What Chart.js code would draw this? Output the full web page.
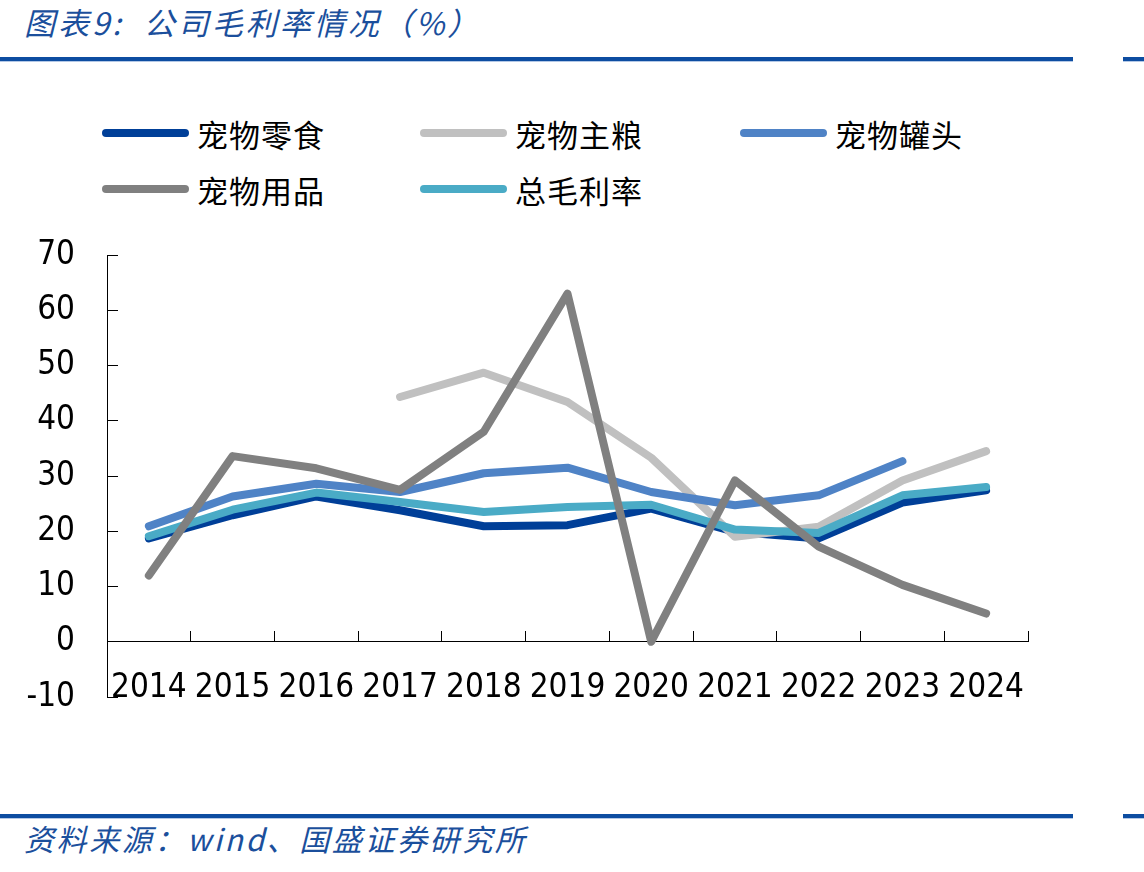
<!DOCTYPE html>
<html>
<head>
<meta charset="utf-8">
<script src="https://cdn.jsdelivr.net/npm/chart.js@4.4.1/dist/chart.umd.min.js"></script>
<style>
    body {
        margin: 0;
        width: 1144px;
        height: 872px;
        background: #fff;
        position: relative;
        overflow: hidden;
        font-family: "Noto Sans CJK SC", sans-serif;
    }
    .title, .source {
        position: absolute;
        left: 24px;
        font-style: italic;
        color: #1b4f9c;
        white-space: pre;
        line-height: 44px;
    }
    .title { top: 0; font-size: 31px; letter-spacing: 3px; }
    .source { top: 816px; font-size: 30px; letter-spacing: 2.6px; }
    .rule {
        position: absolute;
        height: 4px;
        background: #0d4da1;
        border-bottom: 1px solid #b3c8e6;
    }
    #legend {
        position: absolute;
        left: 102px;
        top: 105px;
        display: grid;
        grid-template-columns: 318px 320px 320px;
        grid-auto-rows: 56px;
    }
    #legend .item { display: flex; align-items: center; font-size: 31px; letter-spacing: 1px; color: #000; }
    #legend .bar { width: 87px; height: 8px; border-radius: 4px; margin-right: 8px; }
    #chart { position: absolute; left: 0; top: 230px; }
</style>
</head>
<body>
<div class="title">图表9:  公司毛利率情况（%）</div>
<div class="rule" style="left:0; top:57px; width:1073px;"></div>
<div class="rule" style="left:1123px; top:57px; width:21px;"></div>
<div id="legend"></div>
<canvas id="chart" width="1144" height="500"></canvas>
<div class="rule" style="left:0; top:814px; width:1073px;"></div>
<div class="rule" style="left:1123px; top:814px; width:21px;"></div>
<div class="source">资料来源：wind、国盛证券研究所</div>

<script>
const years = ["2014", "2015", "2016", "2017", "2018", "2019", "2020", "2021", "2022", "2023", "2024"];
const snacks = [18.7, 22.9, 26.3, 23.8, 20.9, 21.1, 24.1, 19.9, 18.7, 25.2, 27.4];
const staple = [null, null, null, 44.3, 48.7, 43.4, 33.3, 19.0, 20.8, 29.2, 34.5];
const cans = [20.9, 26.3, 28.6, 27.1, 30.5, 31.5, 27.1, 24.7, 26.5, 32.7, null];
const supplies = [12.0, 33.6, 31.4, 27.5, 38.0, 63.0, 0.0, 29.2, 17.2, 10.3, 5.1];
const total = [19.1, 23.9, 27.0, 25.3, 23.5, 24.4, 24.8, 20.3, 19.7, 26.5, 28.0];
const yTicks = [-10, 0, 10, 20, 30, 40, 50, 60, 70];

const tickFont = { family: "'DejaVu Sans Condensed', 'DejaVu Sans', sans-serif", size: 33 };

function series(label, data, color, order) {
    return {
        label: label,
        data: data,
        borderColor: color,
        backgroundColor: color,
        borderWidth: 8,
        borderCapStyle: "round",
        borderJoinStyle: "round",
        pointRadius: 0,
        tension: 0,
        spanGaps: false,
        order: order
    };
}

const chart = new Chart(document.getElementById("chart").getContext("2d"), {
    type: "line",
    data: {
        labels: years,
        datasets: [
            series("宠物零食", snacks, "#003f98", 5),
            series("宠物主粮", staple, "#c0c0c0", 4),
            series("宠物罐头", cans, "#4f83c6", 3),
            series("宠物用品", supplies, "#808080", 1),
            series("总毛利率", total, "#4aabc6", 2)
        ]
    },
    options: {
        responsive: false,
        animation: false,
        devicePixelRatio: 1,
        layout: { padding: { left: 0, right: 116, top: 25, bottom: 33 } },
        plugins: { legend: { display: false }, tooltip: { enabled: false } },
        scales: {
            x: {
                position: { y: 0 },
                offset: true,
                grid: { offset: true, drawOnChartArea: false, tickLength: -11, color: "#000", lineWidth: 1 },
                border: { color: "#000", width: 1 },
                ticks: { font: tickFont, color: "#000", padding: 38, autoSkip: false, maxRotation: 0, minRotation: 0 },
                afterFit: s => { s.height = 0; }
            },
            y: {
                min: -10,
                max: 70,
                afterBuildTicks: s => { s.ticks = yTicks.map(v => ({ value: v })); },
                grid: { drawOnChartArea: false, tickLength: -11, color: "#000", lineWidth: 1 },
                border: { color: "#000", width: 1 },
                ticks: { font: tickFont, color: "#000", padding: 43 },
                afterFit: s => {
                    s.width = 107;
                    s.paddingTop = 0; // label padding would push the plot down
                    s.paddingBottom = 0;
                }
            }
        }
    }
});

function buildLegend(chart) {
    const box = document.getElementById("legend");
    chart.data.datasets.forEach(ds => {
        const item = document.createElement("div");
        item.className = "item";
        item.innerHTML = `<span class="bar" style="background:${ds.borderColor}"></span><span>${ds.label}</span>`;
        box.appendChild(item);
    });
}

buildLegend(chart);
</script>
</body>
</html>
